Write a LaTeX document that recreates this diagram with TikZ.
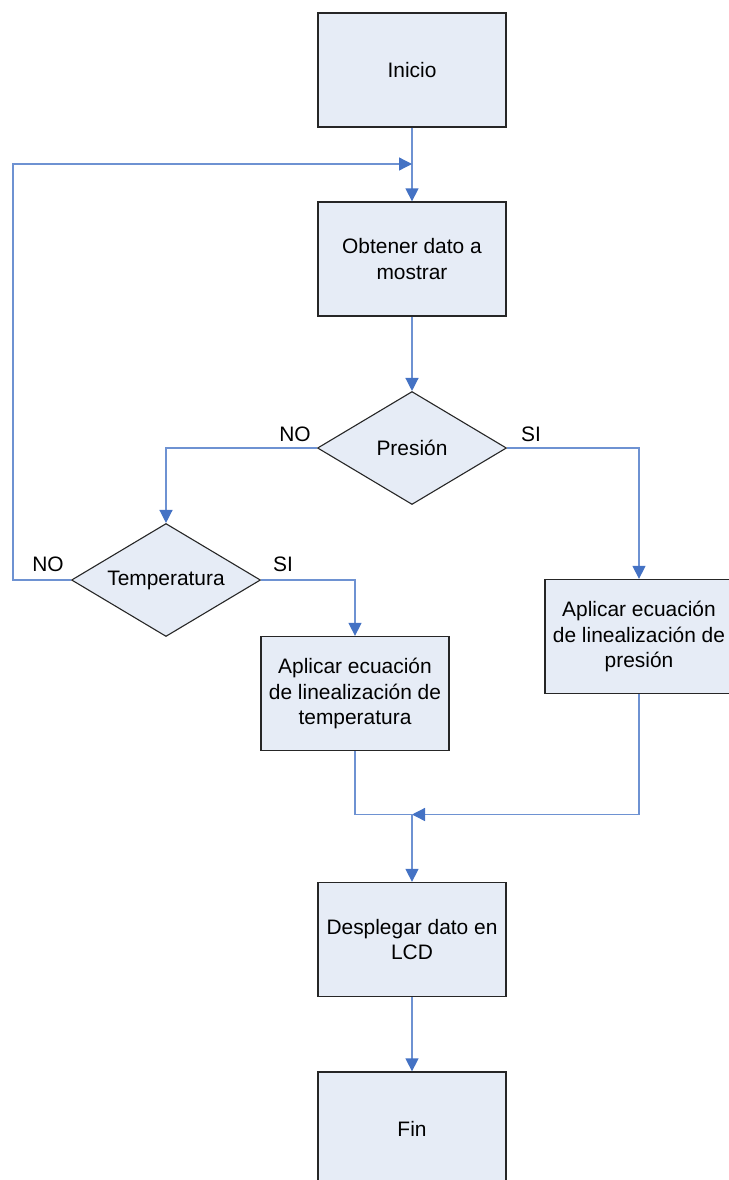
\documentclass[tikz,border=0pt]{standalone}
\usepackage{fontspec}
\setmainfont{Liberation Sans}
\usetikzlibrary{shapes.geometric,arrows.meta}
\definecolor{boxfill}{HTML}{E6ECF6}
\definecolor{linkblue}{HTML}{6E92D2}
\definecolor{tipblue}{HTML}{4472C4}
\definecolor{edge}{HTML}{262626}
\tikzset{
  x=1bp, y=-1bp,
  every node/.style={font=\fontsize{21}{26}\selectfont, text=black},
  stepbox/.style={draw=edge, line width=1.3bp, fill=boxfill, rectangle,
    minimum width=188bp, minimum height=114bp, inner sep=2bp, align=center},
  decision/.style={draw=edge, line width=1.1bp, fill=boxfill, diamond, aspect=1.67,
    minimum width=189bp, minimum height=113bp, inner sep=0bp},
  link/.style={draw=linkblue, line width=1.3bp},
  flow/.style={link, -{Triangle[length=13bp,width=13bp,color=tipblue]}},
  tag/.style={inner sep=0bp}
}
\begin{document}
\begin{tikzpicture}
\useasboundingbox (0,0) rectangle (729,1180);
\clip (0,0) rectangle (729,1180);

% process boxes and decisions
\node[stepbox] (inicio) at (412,70) {Inicio};
\node[stepbox] (obtener) at (412,259) {Obtener dato a\\mostrar};
\node[decision] (presion) at (412,448) {Presión};
\node[decision] (temp) at (166,580) {Temperatura};
\node[stepbox] (tbox) at (355,693.5) {Aplicar ecuación\\de linealización de\\temperatura};
\node[stepbox] (pbox) at (639,636.5) {Aplicar ecuación\\de linealización de\\presión};
\node[stepbox] (desp) at (412,939.5) {Desplegar dato en\\LCD};
\node[stepbox] (fin) at (412,1129) {Fin};

% branch labels
\node[tag] (pno) at (295,434) {NO};
\node[tag] (psi) at (531,434) {SI};
\node[tag] (tno) at (48,564) {NO};
\node[tag] (tsi) at (283,564) {SI};

% junction points
\coordinate (join) at (412,164);
\coordinate (loopcorner) at (13,164);
\coordinate (merge) at (412,814.5);

% connectors
\draw[flow] (inicio.south) -- (obtener.north);
\draw[flow] (temp.west) -| (loopcorner) -- (join);
\draw[flow] (obtener.south) -- (presion.north);
\draw[flow] (presion.west) -| (temp.north);
\draw[flow] (presion.east) -| (pbox.north);
\draw[flow] (temp.east) -| (tbox.north);
\draw[link] (tbox.south) |- (merge);
\draw[flow] (pbox.south) |- (merge);
\draw[flow] (merge) -- (desp.north);
\draw[flow] (desp.south) -- (fin.north);
\end{tikzpicture}
\end{document}
